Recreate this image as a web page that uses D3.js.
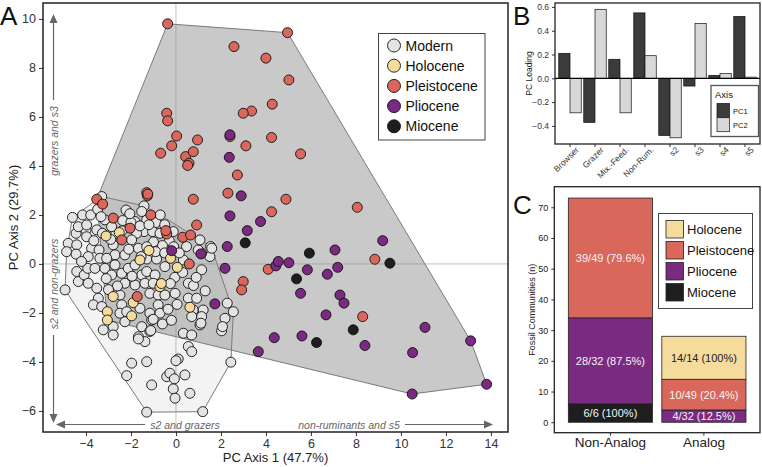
<!DOCTYPE html>
<html><head><meta charset="utf-8">
<script src="https://cdn.jsdelivr.net/npm/d3@7"></script>
<style>body{margin:0;background:#fff} svg{display:block} text{font-family:"Liberation Sans",Arial,Helvetica,sans-serif}</style>
</head><body><svg id="c" width="762" height="467"></svg>
<script>
// ---------- Panel A data (PC1, PC2) ----------
const modern = [
[-3.3,2.75],[-4.15,2.0],[-3.79,2.0],[-4.0,1.39],[-3.52,1.39],[-3.16,1.8],[-2.37,1.77],[-2.22,2.2],[-1.42,2.37],[-1.3,1.8],
[-0.89,1.69],[-1.42,1.32],[-1.04,1.32],[-0.71,1.25],[-0.12,1.32],[-4.44,1.25],[-1.75,1.25],[-2.67,1.25],[-3.27,1.25],[-3.48,2.23],
[-3.33,1.93],[-4.34,1.52],[-3.97,1.59],[-2.86,1.52],[-1.82,1.73],[-1.52,2.14],[-3.97,1.11],[-4.79,0.84],[-4.41,0.78],[-3.75,0.64],
[-3.42,0.57],[-2.79,0.78],[-1.97,0.98],[-1.67,0.64],[-4.86,0.5],[-4.44,0.4],[-3.9,0.3],[-2.71,0.37],[-2.27,0.37],[-4.93,-1.06],
[-4.41,-0.31],[-4.34,-0.72],[-4.08,-0.45],[-3.9,-0.79],[-3.92,-0.18],[-3.6,-0.18],[-3.52,-0.99],[-3.38,0.23],[-3.08,0.23],[-3.16,-0.18],
[-2.71,-0.04],[-2.86,-0.45],[-2.41,-0.38],[-2.12,-0.18],[-1.82,-0.04],[-1.52,-0.45],[-2.27,-0.79],[-1.82,-0.86],[-3.45,-1.4],[-3.67,-1.67],
[-3.3,-1.74],[-2.49,-1.27],[-2.41,-1.67],[-2.49,-2.01],[-2.27,-2.36],[-2.79,-2.56],[-3.23,-2.69],[-1.52,-2.56],[-1.67,-2.97],[-1.6,-1.81],
[-2.19,-1.95],[-1.3,0.2],[-0.86,0.2],[-0.49,-0.11],[0.33,0.16],[1.14,-0.24],[1.51,0.3],[-1.3,-0.31],[-0.93,-0.45],[-1.38,-0.79],
[-1.01,-0.79],[-1.16,-1.2],[-0.79,-1.27],[-0.49,-1.27],[-0.04,-1.2],[0.55,-0.79],[0.78,-0.88],[-0.79,-1.67],[-1.16,-2.01],[-0.71,-2.01],
[-1.08,-2.29],[0.55,-1.4],[0.92,-1.4],[0.77,-1.88],[1.21,-1.88],[1.14,-2.15],[1.07,-2.49],[0.7,-2.15],[2.28,-1.6],[2.55,-1.95],
[2.18,-2.22],[2.03,-2.73],[0.33,-2.83],[0.7,-2.9],[-1.16,-2.76],[-1.38,-3.17],[-1.3,-3.99],[0.1,-3.88],[0.0,-3.95],[0.55,-3.37],
[0.7,-3.58],[0.4,-4.53],[-0.41,-4.6],[-0.27,-4.46],[-0.07,-4.69],[-1.08,-4.94],[-0.12,-5.1],[-0.04,-5.48],[0.62,-5.28],[-1.3,-6.05],
[1.19,-6.03],[2.44,-4.01],[-2.79,-2.9],[-1.67,-3.06],[-1.97,-4.05],[-2.19,-4.56],[1.11,-2.42],[1.54,0.71],[1.14,0.44],[2.07,-2.56],
[-1.01,-2.26],[-1.12,-2.72],[0.47,0.71],[0.99,0.57],[1.59,0.64],[-2.0,1.7],[-1.6,1.55],[-1.2,1.6],[-0.5,1.6],[-0.3,0.95],
[-0.6,0.75],[-1.0,0.9],[-1.3,0.7],[-0.9,0.5],[-0.5,0.45],[-2.4,1.35],[-2.9,1.0],[-2.1,0.6],[-1.55,0.3],[-0.1,0.7],
[0.15,0.45],[-3.65,0.95],[-0.05,-0.55],[0.3,-0.35],[-0.25,-0.8],[0.05,-1.65],[-0.35,-1.85],[-1.95,-0.5],[-2.6,-0.9],[-3.0,-1.05],
[0.9,-0.55],[1.3,-1.1],[-0.6,-2.45],[-0.2,-2.3],[1.07,0.98],[-2.05,2.05],[-0.7,2.0],[-4.6,1.9],[-4.2,0.1],[-3.1,-0.6]
];
const holocene = [
[-3.11,1.14],[-2.52,1.28],[-0.24,0.23],[0.06,-0.14],[-1.6,0.16],[-0.71,-0.93],[-2.79,-1.33],
[-3.05,-1.95],[-3.05,-2.29],[-1.97,-2.12],[-1.9,-1.58],[0.62,-1.77],[-1.2,0.55],[-0.65,-0.8]
];
const pleistocene = [
[-0.37,9.8],[2.58,8.87],[4.96,9.44],[4.0,8.4],[5.02,7.51],[4.28,6.52],[3.36,6.24],[2.99,6.15],[-0.41,6.15],[-0.37,5.84],
[0.03,5.22],[-0.19,4.82],[-0.68,4.52],[0.43,4.38],[0.58,4.11],[0.96,5.06],[0.77,4.58],[2.4,5.2],[3.11,4.82],[4.25,5.16],
[5.54,4.49],[2.73,3.63],[2.31,2.89],[4.89,2.64],[4.25,2.13],[8.06,2.31],[-1.3,2.91],[-1.27,2.78],[0.77,2.64],[-3.52,2.64],
[-3.26,2.44],[-1.12,2.0],[0.92,1.59],[-0.41,1.22],[0.3,1.09],[0.65,1.18],[-2.41,0.98],[0.59,0.0],[-1.72,-1.33],[2.99,-0.72],
[2.92,-1.06],[4.1,-0.22],[8.84,0.19],[8.3,-2.15],[-2.79,1.87],[-2.04,1.46],[0.52,4.02],[-0.45,1.36],[-1.25,2.85]
];
const pliocene = [
[2.4,5.27],[2.37,4.35],[2.9,2.78],[2.4,1.96],[3.17,1.36],[3.76,1.73],[-0.19,0.54],[1.11,0.41],[2.28,0.71],[2.18,-0.18],
[1.73,-1.63],[3.66,-3.58],[9.19,0.95],[7.07,0.57],[4.44,-0.08],[4.55,0.1],[5.02,0.05],[5.84,-0.24],[6.73,-0.42],[7.19,-0.14],
[5.54,-1.2],[7.29,-1.27],[7.47,-1.6],[6.67,-2.08],[11.07,-2.59],[4.37,-3.01],[5.6,-2.94],[8.4,-3.33],[10.52,-3.62],[13.1,-3.14],
[13.81,-4.91],[10.5,-5.31]
];
const miocene = [[3.08,0.86],[5.93,0.44],[9.51,0.03],[5.36,-0.61],[7.88,-2.69],[6.25,-3.21]];
const periods = ["Modern","Holocene","Pleistocene","Pliocene","Miocene"];
const periodColors = ["#e3e3e3","#f6dc9c","#d9675c","#7a2a80","#1e1e1e"];
const xTicksA = [-4,-2,0,2,4,6,8,10,12,14];
const yTicksA = [-6,-4,-2,0,2,4,6,8,10];

// ---------- Panel B data ----------
const loadCategories = ["Browser","Grazer","Mix.-Feed.","Non-Rum.","s2","s3","s4","s5"];
const pc1Loadings = [0.21,-0.37,0.16,0.55,-0.48,-0.065,0.025,0.52];
const pc2Loadings = [-0.29,0.58,-0.29,0.19,-0.50,0.46,0.04,0.01];
const yTicksB = [-0.4,-0.2,0.0,0.2,0.4,0.6];

// ---------- Panel C data ----------
const analogGroups = ["Non-Analog","Analog"];
const stackPeriods = ["Miocene","Pliocene","Pleistocene","Holocene"];
const mioceneCounts = [6,0];
const plioceneCounts = [28,4];
const pleistoceneCounts = [39,10];
const holoceneCounts = [0,14];
const mioceneLabels = ["6/6 (100%)",""];
const plioceneLabels = ["28/32 (87.5%)","4/32 (12.5%)"];
const pleistoceneLabels = ["39/49 (79.6%)","10/49 (20.4%)"];
const holoceneLabels = ["","14/14 (100%)"];
const yTicksC = [0,10,20,30,40,50,60,70];

const svg = d3.select("#c");
const col = p => periodColors[periods.indexOf(p)];

// ================= Panel A =================
const A = {l:43,t:3,r:508,b:432};
const xA = d3.scaleLinear().domain([-5.91,14.76]).range([A.l,A.r]);
const yA = d3.scaleLinear().domain([-6.86,10.65]).range([A.b,A.t]);
const gA = svg.append("g");
svg.append("clipPath").attr("id","clipA").append("rect").attr("x",A.l).attr("y",A.t).attr("width",A.r-A.l).attr("height",A.b-A.t);
const plotA = gA.append("g").attr("clip-path","url(#clipA)");

const fossilPts = [...holocene,...pleistocene,...pliocene,...miocene];
const hullF = d3.polygonHull(fossilPts.map(d=>[xA(d[0]),yA(d[1])]));
const hullM = d3.polygonHull(modern.map(d=>[xA(d[0]),yA(d[1])]));
plotA.append("path").attr("d","M"+hullF.join("L")+"Z").attr("fill","rgba(120,120,120,0.40)").attr("stroke","#7a7a7a").attr("stroke-width",1);
plotA.append("path").attr("d","M"+hullM.join("L")+"Z").attr("fill","rgba(120,120,120,0.09)").attr("stroke","#7a7a7a").attr("stroke-width",1);
plotA.append("line").attr("x1",xA(0)).attr("x2",xA(0)).attr("y1",A.t).attr("y2",A.b).attr("stroke","rgba(140,140,140,0.55)").attr("stroke-width",1);
plotA.append("line").attr("y1",yA(0)).attr("y2",yA(0)).attr("x1",A.l).attr("x2",A.r).attr("stroke","rgba(140,140,140,0.55)").attr("stroke-width",1);

const series = [["Modern",modern],["Holocene",holocene],["Pleistocene",pleistocene],["Pliocene",pliocene],["Miocene",miocene]];
series.forEach(([name,pts])=>{
  plotA.append("g").selectAll("circle").data(pts).join("circle")
    .attr("cx",d=>xA(d[0])).attr("cy",d=>yA(d[1])).attr("r",5)
    .attr("fill",col(name)).attr("stroke","#111").attr("stroke-width",0.9);
});

// arrows
const arrowCol = "#666";
function arrowHead(x,y,dir){
  let p;
  if(dir==="up") p=[[x,y],[x-4,y+9],[x+4,y+9]];
  if(dir==="down") p=[[x,y],[x-4,y-9],[x+4,y-9]];
  if(dir==="left") p=[[x,y],[x+9,y-4],[x+9,y+4]];
  if(dir==="right") p=[[x,y],[x-9,y-4],[x-9,y+4]];
  gA.append("path").attr("d","M"+p.join("L")+"Z").attr("fill",arrowCol);
}
gA.append("line").attr("x1",53.5).attr("x2",53.5).attr("y1",100).attr("y2",20).attr("stroke",arrowCol).attr("stroke-width",1.2);
arrowHead(53.5,14,"up");
gA.append("line").attr("x1",53.5).attr("x2",53.5).attr("y1",335).attr("y2",416).attr("stroke",arrowCol).attr("stroke-width",1.2);
arrowHead(53.5,423,"down");
gA.append("line").attr("x1",145).attr("x2",62).attr("y1",424.5).attr("y2",424.5).attr("stroke",arrowCol).attr("stroke-width",1.2);
arrowHead(56,424.5,"left");
gA.append("line").attr("x1",405).attr("x2",486).attr("y1",424.5).attr("y2",424.5).attr("stroke",arrowCol).attr("stroke-width",1.2);
arrowHead(493,424.5,"right");
const it = {fill:"#666","font-size":"10.5px","font-style":"italic"};
function txt(g,x,y,s,attrs,rot){
  const t=g.append("text").attr("x",x).attr("y",y).text(s);
  Object.entries(attrs).forEach(([k,v])=>t.attr(k,v));
  if(rot) t.attr("transform",`rotate(${rot},${x},${y})`);
  return t;
}
txt(gA,57.5,141,"grazers and s3",{...it,"text-anchor":"middle"},-90);
txt(gA,57.5,284,"s2 and non-grazers",{...it,"text-anchor":"middle"},-90);
txt(gA,185,428.5,"s2 and grazers",{...it,"text-anchor":"middle"});
txt(gA,349,428.5,"non-ruminants and s5",{...it,"text-anchor":"middle"});

// axes A
const axA_x = gA.append("g").attr("transform",`translate(0,${A.b})`).call(d3.axisBottom(xA).tickValues(xTicksA).tickSize(4).tickSizeOuter(0));
const axA_y = gA.append("g").attr("transform",`translate(${A.l},0)`).call(d3.axisLeft(yA).tickValues(yTicksA).tickSize(4).tickSizeOuter(0));
[axA_x,axA_y].forEach(a=>{a.select(".domain").remove();a.selectAll("text").attr("font-size","12.5px").attr("fill","#333").attr("font-family","Liberation Sans, Arial");a.selectAll("line").attr("stroke","#333");});
gA.append("rect").attr("x",A.l).attr("y",A.t).attr("width",A.r-A.l).attr("height",A.b-A.t).attr("fill","none").attr("stroke","#222").attr("stroke-width",1.5);
txt(gA,(A.l+A.r)/2,462,"PC Axis 1 (47.7%)",{"font-size":"13px","text-anchor":"middle",fill:"#222"});
txt(gA,18,(A.t+A.b)/2,"PC Axis 2 (29.7%)",{"font-size":"13px","text-anchor":"middle",fill:"#222"},-90);
txt(gA,0,25,"A",{"font-size":"26px",fill:"#111"});

// legend A
const lgA = gA.append("g");
lgA.append("rect").attr("x",378.5).attr("y",33.5).attr("width",106.5).attr("height",106.5).attr("fill","#fff").attr("stroke","#444").attr("stroke-width",1);
periods.forEach((p,i)=>{
  const cy = 45.5 + i*20.2;
  lgA.append("circle").attr("cx",394).attr("cy",cy).attr("r",6.5).attr("fill",periodColors[i]).attr("stroke","#111").attr("stroke-width",0.9);
  txt(lgA,405.5,cy+5,p,{"font-size":"14px",fill:"#111"});
});

// ================= Panel B =================
const B = {l:555,t:3,r:760,b:144};
const gB = svg.append("g");
const xB = d3.scaleBand().domain(loadCategories).range([B.l,B.r]).paddingInner(0.1).paddingOuter(0.15);
const xB2 = d3.scaleBand().domain(["PC1","PC2"]).range([0,xB.bandwidth()]);
const yB = d3.scaleLinear().domain([-0.552,0.633]).range([B.b,B.t]);
const bars = loadCategories.flatMap((c,i)=>[{c,k:"PC1",v:pc1Loadings[i]},{c,k:"PC2",v:pc2Loadings[i]}]);
gB.append("g").selectAll("rect").data(bars).join("rect")
  .attr("x",d=>xB(d.c)+xB2(d.k)).attr("width",xB2.bandwidth())
  .attr("y",d=>yB(Math.max(0,d.v))).attr("height",d=>Math.abs(yB(d.v)-yB(0)))
  .attr("fill",d=>d.k==="PC1"?"#3b3b3b":"#d8d8d8").attr("stroke","#111").attr("stroke-width",0.7);
gB.append("line").attr("x1",B.l).attr("x2",B.r).attr("y1",yB(0)).attr("y2",yB(0)).attr("stroke","#000").attr("stroke-width",1.2);
const axB_y = gB.append("g").attr("transform",`translate(${B.l},0)`).call(d3.axisLeft(yB).tickValues(yTicksB).tickFormat(d3.format(".1f")).tickSize(3).tickSizeOuter(0));
const axB_x = gB.append("g").attr("transform",`translate(0,${B.b})`).call(d3.axisBottom(xB).tickSize(3).tickSizeOuter(0));
[axB_x,axB_y].forEach(a=>{a.select(".domain").remove();a.selectAll("text").attr("font-size","8.5px").attr("fill","#333").attr("font-family","Liberation Sans, Arial");a.selectAll("line").attr("stroke","#333");});
axB_x.selectAll("text").attr("text-anchor","end").attr("y",6).attr("x",2).attr("transform","rotate(-45)").attr("dx","0").attr("dy","0.6em");
gB.append("rect").attr("x",B.l).attr("y",B.t).attr("width",B.r-B.l).attr("height",B.b-B.t).attr("fill","none").attr("stroke","#222").attr("stroke-width",1.3);
txt(gB,531.5,(B.t+B.b)/2,"PC Loading",{"font-size":"8.5px","text-anchor":"middle",fill:"#222"},-90);
txt(gB,513,25,"B",{"font-size":"26px",fill:"#111"});
const lgB = gB.append("g");
lgB.append("rect").attr("x",711).attr("y",85.5).attr("width",47.5).attr("height",51).attr("fill","#fff").attr("stroke","#555").attr("stroke-width",1.3);
txt(lgB,715,98,"Axis",{"font-size":"9.5px",fill:"#111"});
[["PC1","#3b3b3b"],["PC2","#d8d8d8"]].forEach(([k,c],i)=>{
  const y0 = 103.5 + i*14.2;
  lgB.append("rect").attr("x",717).attr("y",y0).attr("width",12.5).attr("height",14).attr("fill",c).attr("stroke","#111").attr("stroke-width",0.7);
  txt(lgB,733,y0+10,k,{"font-size":"7.5px",fill:"#111"});
});

// ================= Panel C =================
const C = {l:554.3,t:186.7,r:760,b:432.7};
const gC = svg.append("g");
const xC = d3.scaleBand().domain(analogGroups).range([C.l,C.r]).paddingInner(0.1).paddingOuter(0.15);
const yC = d3.scaleLinear().domain([-3.4,76.7]).range([C.b,C.t]);
const tableC = analogGroups.map((g,i)=>({group:g,Miocene:mioceneCounts[i],Pliocene:plioceneCounts[i],Pleistocene:pleistoceneCounts[i],Holocene:holoceneCounts[i]}));
const labelsC = {Miocene:mioceneLabels,Pliocene:plioceneLabels,Pleistocene:pleistoceneLabels,Holocene:holoceneLabels};
const stacked = d3.stack().keys(stackPeriods)(tableC);
stacked.forEach(layer=>{
  const k = layer.key;
  layer.forEach((seg,i)=>{
    if(seg[1]-seg[0]<=0) return;
    gC.append("rect").attr("x",xC(analogGroups[i])).attr("width",xC.bandwidth())
      .attr("y",yC(seg[1])).attr("height",yC(seg[0])-yC(seg[1]))
      .attr("fill",col(k)).attr("stroke","#222").attr("stroke-width",0.8);
    txt(gC,xC(analogGroups[i])+xC.bandwidth()/2,(yC(seg[0])+yC(seg[1]))/2+4,labelsC[k][i],
      {"font-size":"11px","text-anchor":"middle",fill:k==="Holocene"?"#222":"#f4f4f4"});
  });
});
const axC_y = gC.append("g").attr("transform",`translate(${C.l},0)`).call(d3.axisLeft(yC).tickValues(yTicksC).tickSize(3).tickSizeOuter(0));
const axC_x = gC.append("g").attr("transform",`translate(0,${C.b})`).call(d3.axisBottom(xC).tickSize(3).tickSizeOuter(0));
[axC_x,axC_y].forEach(a=>{a.select(".domain").remove();a.selectAll("line").attr("stroke","#333");a.selectAll("text").attr("fill","#222").attr("font-family","Liberation Sans, Arial");});
axC_y.selectAll("text").attr("font-size","9px");
axC_x.selectAll("text").attr("font-size","13.5px").attr("y",5);
gC.append("rect").attr("x",C.l).attr("y",C.t).attr("width",C.r-C.l).attr("height",C.b-C.t).attr("fill","none").attr("stroke","#222").attr("stroke-width",1.3);
txt(gC,535,(C.t+C.b)/2,"Fossil Communities (n)",{"font-size":"9px","text-anchor":"middle",fill:"#222"},-90);
txt(gC,513,214,"C",{"font-size":"26px",fill:"#111"});
const lgC = gC.append("g");
lgC.append("rect").attr("x",658.5).attr("y",213.5).attr("width",94).attr("height",95).attr("fill","#fff").attr("stroke","#444").attr("stroke-width",1);
["Holocene","Pleistocene","Pliocene","Miocene"].forEach((p,i)=>{
  const y0 = 220.5 + i*21;
  lgC.append("rect").attr("x",666).attr("y",y0).attr("width",17.5).attr("height",17.5).attr("fill",col(p)).attr("stroke","#222").attr("stroke-width",0.8);
  txt(lgC,687,y0+13.5,p,{"font-size":"13px",fill:"#111"});
});
</script></body></html>
